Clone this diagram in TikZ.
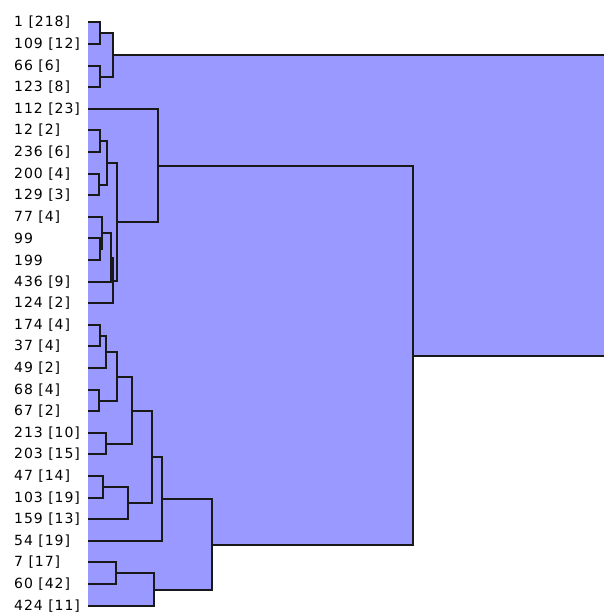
\documentclass[tikz,border=0pt]{standalone}
\usepackage{fontspec}
\setmainfont{DejaVu Sans}[LetterSpace=7]
\usetikzlibrary{calc}
\definecolor{dfill}{RGB}{153,153,255}
\pgfdeclarelayer{bg}
\pgfsetlayers{bg,main}
\newcommand\mrg[4]{%
  \path let \p1=($(#3)!.5!(#4)$) in
    \pgfextra{\pgfmathsetmacro\ym{round(-\y1)}}
    coordinate (#1) at (#2,\ym);
  \begin{pgfonlayer}{bg}
    \fill[dfill] (#3 -| base) rectangle (#4 -| #1);
  \end{pgfonlayer}
  \draw[dline] (#3) -- (#3 -| #1) -- (#4 -| #1) -- (#4);
}
\begin{document}
\begin{tikzpicture}[x=1pt,y=-1pt,
  lbl/.style={anchor=west,inner sep=0pt,font=\fontsize{14}{16}\selectfont},
  dline/.style={draw=black!90,line width=1.6pt,line join=miter}]
\useasboundingbox (0,0) rectangle (604,613);
\clip (0,0) rectangle (604,613);
\coordinate (base) at (88,0);
\foreach \t [count=\i from 0] in {1 [218],109 [12],66 [6],123 [8],112 [23],12 [2],236 [6],200 [4],129 [3],77 [4],99,199,436 [9],124 [2],174 [4],37 [4],49 [2],68 [4],67 [2],213 [10],203 [15],47 [14],103 [19],159 [13],54 [19],7 [17],60 [42],424 [11]}{
  \pgfmathsetmacro\yy{round(22.3+\i*21.6)}
  \node[lbl] (t\i) at (14,\yy) {\t};
  \coordinate (L\i) at (88,\yy);
}
\mrg{a1}{100}{L0}{L1}
\mrg{a2}{100}{L2}{L3}
\mrg{a3}{113}{a1}{a2}
\mrg{b1}{100}{L5}{L6}
\mrg{b2}{99}{L7}{L8}
\mrg{b3}{107}{b1}{b2}
\mrg{c1}{100}{L10}{L11}
\mrg{c2}{102}{L9}{c1}
\mrg{c3}{111}{c2}{L12}
\mrg{c4}{113}{c3}{L13}
\mrg{b4}{117}{b3}{c4}
\mrg{b5}{158}{L4}{b4}
\mrg{d1}{100}{L14}{L15}
\mrg{d2}{106}{d1}{L16}
\mrg{d3}{99}{L17}{L18}
\mrg{d4}{117}{d2}{d3}
\mrg{d5}{106}{L19}{L20}
\mrg{d6}{132}{d4}{d5}
\mrg{e1}{103}{L21}{L22}
\mrg{e2}{128}{e1}{L23}
\mrg{e3}{152}{d6}{e2}
\mrg{e4}{162}{e3}{L24}
\mrg{f1}{116}{L25}{L26}
\mrg{f2}{154}{f1}{L27}
\mrg{g1}{212}{e4}{f2}
\mrg{h1}{413}{b5}{g1}
\mrg{root}{620}{a3}{h1}
\end{tikzpicture}
\end{document}
